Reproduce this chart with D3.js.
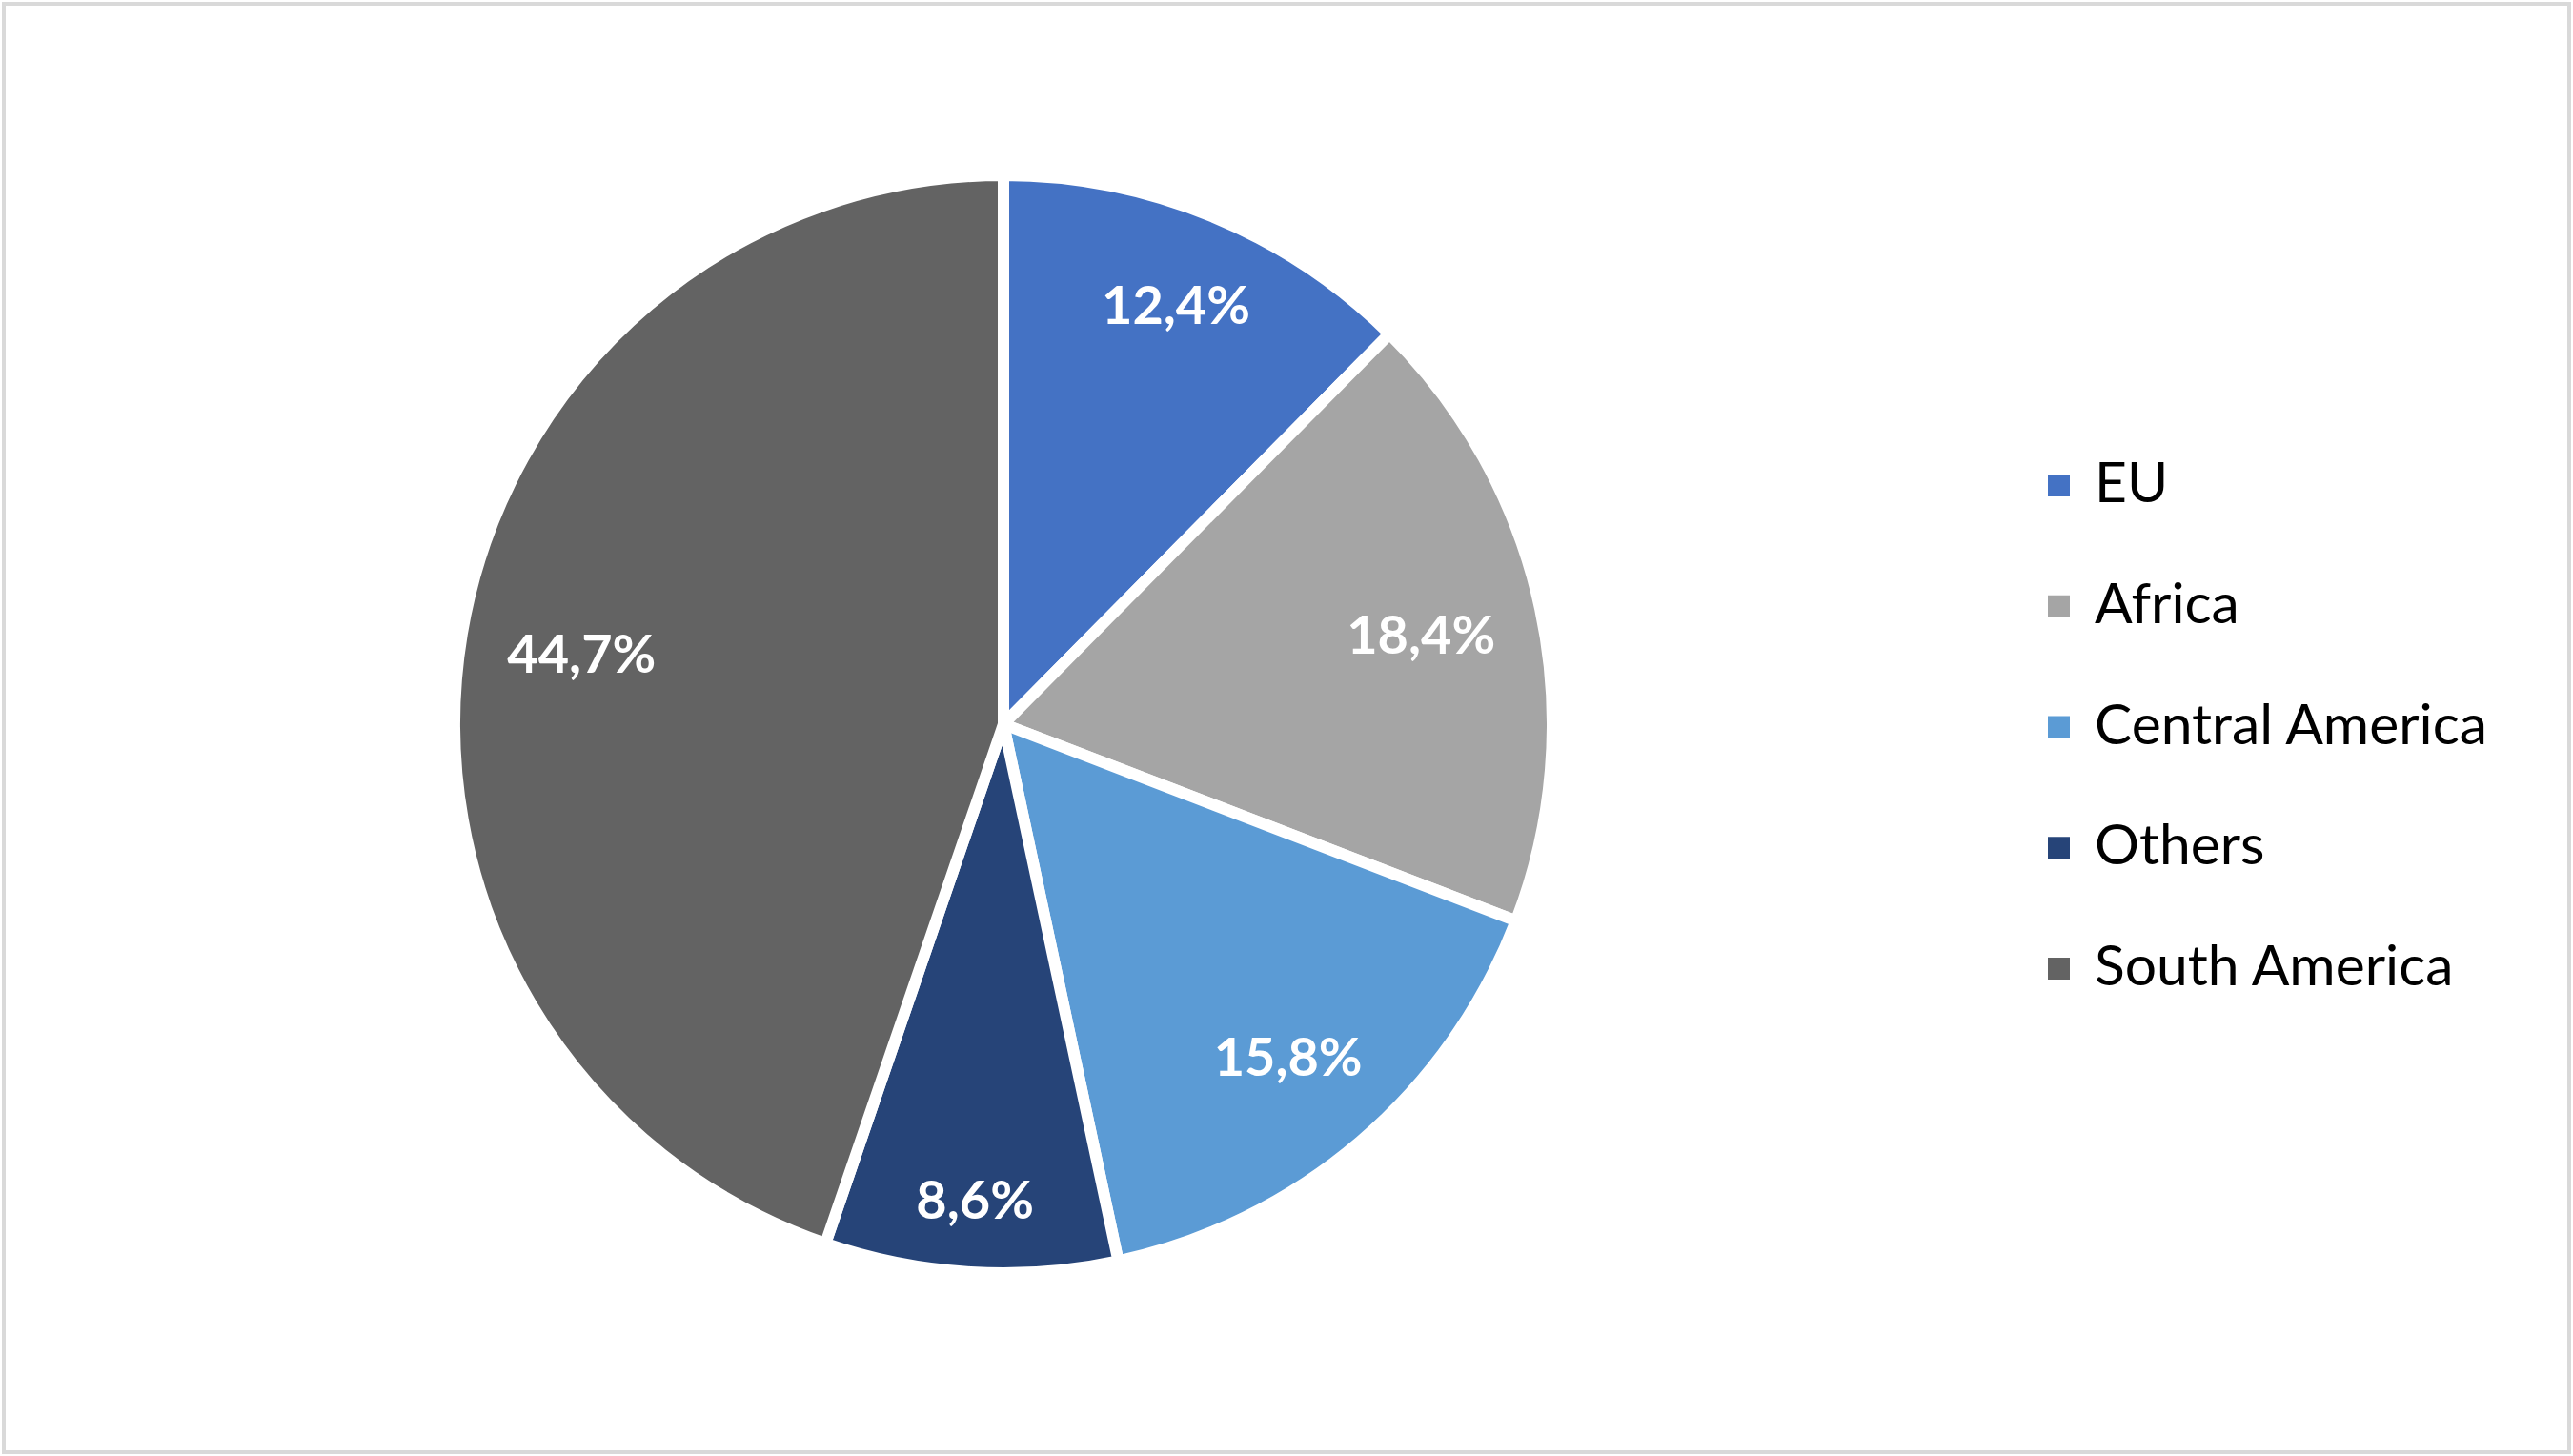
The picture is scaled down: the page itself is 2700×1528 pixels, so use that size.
<!DOCTYPE html>
<html><head><meta charset="utf-8">
<script src="https://cdn.jsdelivr.net/npm/d3@7"></script>
<style>html,body{margin:0;padding:0;background:#fff}</style>
</head><body>
<svg id="c" width="2700" height="1528"></svg>
<script>
const categories = ["EU", "Africa", "Central America", "Others", "South America"];
const values = [12.4, 18.4, 15.8, 8.6, 44.7];
const labels = ["12,4%", "18,4%", "15,8%", "8,6%", "44,7%"];
const colors = ["#4472C4", "#A5A5A5", "#5B9BD5", "#264478", "#636363"];

const W = 2700, H = 1528;
const svg = d3.select("#c");
svg.append("rect").attr("x", 4).attr("y", 4).attr("width", W - 8).attr("height", H - 8)
  .attr("fill", "#fff").attr("stroke", "#d9d9d9").attr("stroke-width", 4);

const cx = 1053, cy = 760, R = 570;
const color = d3.scaleOrdinal().domain(categories).range(colors);
const pie = d3.pie().sort(null).value(d => d.v);
const data = categories.map((c, i) => ({c, v: values[i], l: labels[i]}));
const arcs = pie(data);
const arc = d3.arc().innerRadius(0).outerRadius(R + 6);

const g = svg.append("g").attr("transform", `translate(${cx},${cy})`);
g.selectAll("path").data(arcs).join("path")
  .attr("d", arc).attr("fill", d => color(d.data.c))
  .attr("stroke", "#fff").attr("stroke-width", 12).attr("stroke-linejoin", "round");

const lab = g.selectAll("text.pl").data(arcs).join("text").attr("class", "pl")
  .attr("fill", "#fff").attr("font-family", "Lato, 'Open Sans', sans-serif")
  .attr("font-weight", 700).attr("font-size", 60).attr("text-anchor", "middle")
  .text(d => d.data.l);
const w0 = lab.filter((d, i) => i === 0).node().getComputedTextLength();
const fs = 60 * 156 / w0;
lab.attr("font-size", fs);
const capH = fs * 0.72;
lab.each(function(d) {
  const a = (d.startAngle + d.endAngle) / 2;
  const w = this.getComputedTextLength();
  const sx = Math.sin(a), sy = -Math.cos(a);
  const proj = Math.abs(sx) * w / 2 + Math.abs(sy) * (capH / 2 + 6);
  const r = R - 40 - proj;
  d3.select(this).attr("x", sx * r).attr("y", sy * r + capH / 2);
});

const leg = svg.append("g");
const lx = 2149, ly0 = 527, step = 126.75;
const lt = leg.selectAll("g").data(categories).join("g")
  .attr("transform", (d, i) => `translate(${lx},${ly0 + i * step})`);
lt.append("rect").attr("x", 0).attr("y", -29).attr("width", 23).attr("height", 23)
  .attr("fill", d => color(d));
const tt = lt.append("text").attr("x", 49).attr("y", 0)
  .attr("font-family", "Lato, 'Open Sans', sans-serif").attr("font-size", 55)
  .attr("fill", "#000").text(d => d);
const wc = tt.filter(d => d === "Central America").node().getComputedTextLength();
tt.attr("font-size", 55 * 412 / wc);
</script>
</body></html>
